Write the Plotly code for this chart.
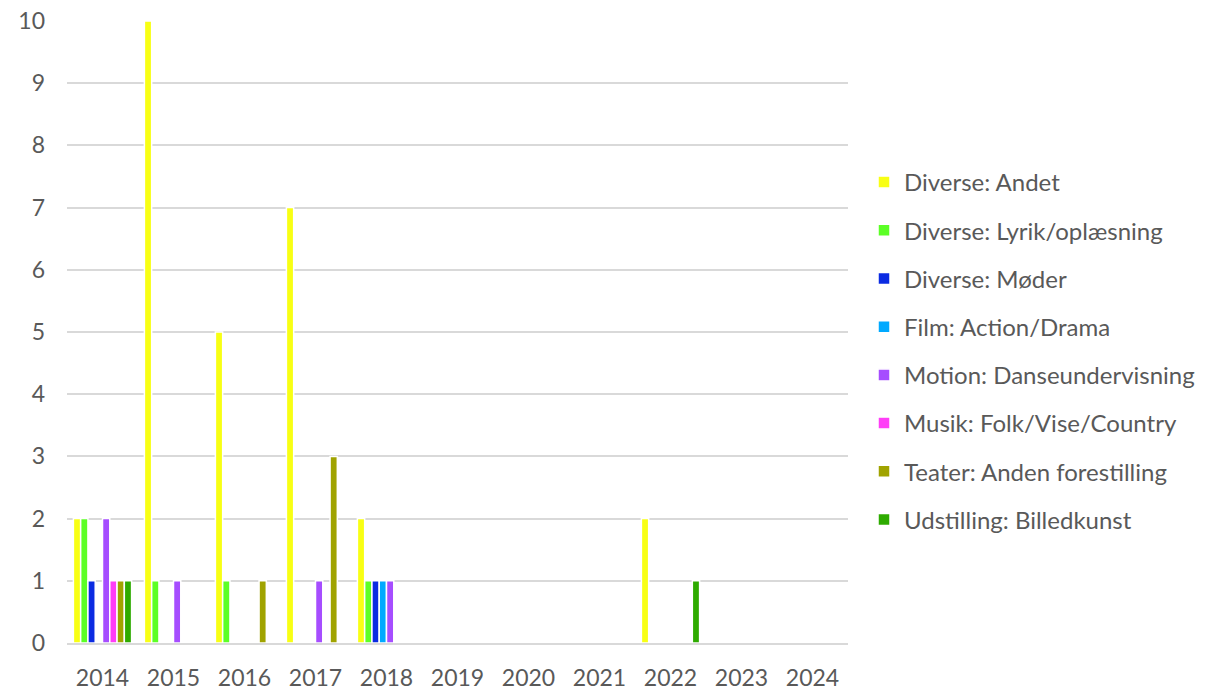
import plotly.graph_objects as go

years = ["2014", "2015", "2016", "2017", "2018", "2019", "2020", "2021", "2022", "2023", "2024"]

andet      = [2, 10, 5, 7, 2, 0, 0, 0, 2, 0, 0]
lyrik      = [2, 1, 1, 0, 1, 0, 0, 0, 0, 0, 0]
moder      = [1, 0, 0, 0, 1, 0, 0, 0, 0, 0, 0]
film       = [0, 0, 0, 0, 1, 0, 0, 0, 0, 0, 0]
motion     = [2, 1, 0, 1, 1, 0, 0, 0, 0, 0, 0]
musik      = [1, 0, 0, 0, 0, 0, 0, 0, 0, 0, 0]
teater     = [1, 0, 1, 3, 0, 0, 0, 0, 0, 0, 0]
udstilling = [1, 0, 0, 0, 0, 0, 0, 0, 1, 0, 0]

names = ["Diverse: Andet", "Diverse: Lyrik/oplæsning", "Diverse: Møder", "Film: Action/Drama",
         "Motion: Danseundervisning", "Musik: Folk/Vise/Country", "Teater: Anden forestilling",
         "Udstilling: Billedkunst"]
series = [andet, lyrik, moder, film, motion, musik, teater, udstilling]
colors = ["#F8FF14", "#5CFF26", "#0B2BE2", "#00A9FF", "#A64DFF", "#FF3DF7", "#A0A300", "#2EAB00"]

fig = go.Figure()
for i, (n, s, c) in enumerate(zip(names, series, colors)):
    fig.add_trace(go.Bar(
        x=years, y=s, name=n, legendgroup=n,
        marker=dict(color=c, line=dict(color="white", width=1.5)),
    ))

font_family = "Lato, 'Open Sans', sans-serif"
fig.update_layout(
    width=1217, height=688,
    margin=dict(l=67, r=369, t=21, b=45),
    paper_bgcolor="white", plot_bgcolor="white",
    barmode="group", bargap=0.18, bargroupgap=0,
    font=dict(family=font_family, color="#595959", size=23),
    legend=dict(x=(864 - 67) / 781, y=(643 - 160) / 622, xanchor="left", yanchor="top",
                font=dict(size=24, color="#595959"), tracegroupgap=14,
                itemwidth=30),
    showlegend=True,
)
fig.update_yaxes(range=[0, 10], dtick=1, showgrid=True, gridcolor="#d9d9d9", gridwidth=1.5,
                 zeroline=False, showline=False, ticks="", ticklabelstandoff=21,
                 automargin=False, ticklabeloverflow="allow",
                 tickfont=dict(size=23, color="#595959"))
fig.update_xaxes(showgrid=False, showline=True, linecolor="#d9d9d9", linewidth=1.5,
                 layer="above traces", ticks="", ticklabelstandoff=14, automargin=False,
                 ticklabeloverflow="allow",
                 tickfont=dict(size=23, color="#595959"))

fig.write_html("out.html", config={"displayModeBar": False},
               post_script="document.body.style.margin='0';document.body.style.overflow='hidden';")
